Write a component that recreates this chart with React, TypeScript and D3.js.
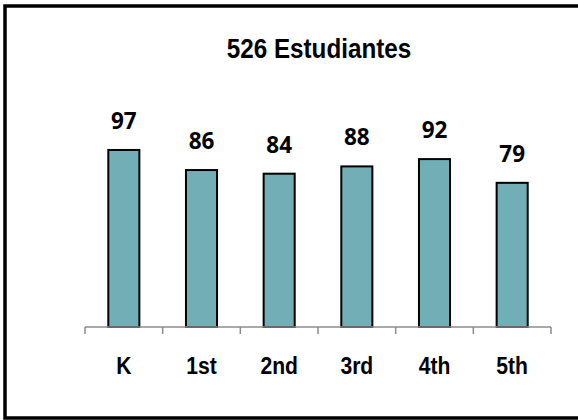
import React, { useEffect, useRef } from "react";
import * as d3 from "d3";

const grades = ["K", "1st", "2nd", "3rd", "4th", "5th"];
const students = [97, 86, 84, 88, 92, 79];
const chartTitle = "526 Estudiantes";

export default function App() {
  const ref = useRef<SVGSVGElement | null>(null);

  useEffect(() => {
    const width = 578;
    const height = 420;
    const left = 85;
    const right = 551;
    const baseY = 327;

    const svg = d3.select(ref.current).attr("width", width).attr("height", height);
    svg.selectAll("*").remove();

    svg.append("rect")
      .attr("width", width)
      .attr("height", height)
      .attr("fill", "#ffffff");

    // outer frame: top, left and bottom only (right edge is cut off)
    svg.append("path")
      .attr("d", `M${width + 10},6 H5 V418 H${width + 10}`)
      .attr("fill", "none")
      .attr("stroke", "#000")
      .attr("stroke-width", 3.5);

    const x = d3.scaleBand()
      .domain(grades)
      .range([left, right])
      .padding(0);

    const y = d3.scaleLinear()
      .domain([0, 100])
      .range([baseY, 144.5]);

    const barW = x.bandwidth() * 0.4;

    // title
    svg.append("text")
      .attr("transform", `translate(319, 58) scale(0.85, 1)`)
      .attr("text-anchor", "middle")
      .attr("font-family", "'Liberation Sans', Arial, sans-serif")
      .attr("font-weight", "bold")
      .attr("font-size", 28.5)
      .attr("fill", "#000")
      .text(chartTitle);

    // bars
    svg.selectAll(".bar")
      .data(students)
      .enter()
      .append("rect")
      .attr("class", "bar")
      .attr("x", (d, i) => (x(grades[i]) as number) + x.bandwidth() / 2 - barW / 2)
      .attr("y", d => y(d))
      .attr("width", barW)
      .attr("height", d => baseY - y(d))
      .attr("fill", "#71aeb6")
      .attr("stroke", "#000")
      .attr("stroke-width", 2);

    // value labels
    svg.selectAll(".val")
      .data(students)
      .enter()
      .append("text")
      .attr("class", "val")
      .attr("x", (d, i) => (x(grades[i]) as number) + x.bandwidth() / 2)
      .attr("y", d => y(d) - 21)
      .attr("text-anchor", "middle")
      .attr("font-family", "'Open Sans', sans-serif")
      .attr("font-weight", "bold")
      .attr("font-size", 22.5)
      .attr("fill", "#000")
      .text(d => d);

    // x axis
    const axis = svg.append("g").attr("transform", `translate(0, ${baseY})`);
    axis.append("line")
      .attr("x1", left)
      .attr("x2", right)
      .attr("stroke", "#8c8c8c")
      .attr("stroke-width", 1.5);
    const tickXs = grades.map(g => x(g) as number).concat([right]);
    axis.selectAll(".tick")
      .data(tickXs)
      .enter()
      .append("line")
      .attr("class", "tick")
      .attr("x1", d => d)
      .attr("x2", d => d)
      .attr("y1", 0)
      .attr("y2", 7)
      .attr("stroke", "#8c8c8c")
      .attr("stroke-width", 1.5);

    axis.selectAll(".lbl")
      .data(grades)
      .enter()
      .append("text")
      .attr("class", "lbl")
      .attr("transform", d => `translate(${(x(d) as number) + x.bandwidth() / 2}, 47) scale(0.88, 1)`)
      .attr("text-anchor", "middle")
      .attr("font-family", "'Liberation Sans', Arial, sans-serif")
      .attr("font-weight", "bold")
      .attr("font-size", 24)
      .attr("fill", "#000")
      .text(d => d);
  }, []);

  return (
    <svg ref={ref} style={{ position: "absolute", left: 0, top: 0 }}></svg>
  );
}
